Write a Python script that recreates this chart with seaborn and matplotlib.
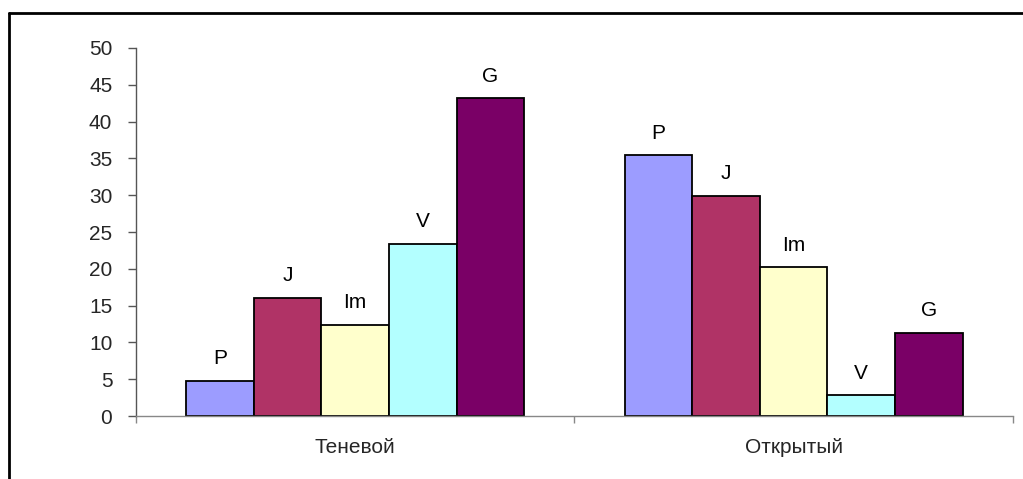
import pandas as pd
import matplotlib.pyplot as plt
import seaborn as sns
from matplotlib.lines import Line2D

# Data
groups = ["Теневой", "Открытый"]
series = ["P", "J", "Im", "V", "G"]
shadow_values = [4.8, 16.1, 12.4, 23.4, 43.2]
open_values = [35.4, 29.9, 20.2, 2.8, 11.3]
colors = ["#9C9CFF", "#B03366", "#FFFFCC", "#B3FFFF", "#7A0066"]
y_ticks = [0, 5, 10, 15, 20, 25, 30, 35, 40, 45, 50]

rows = []
for name, sv, ov in zip(series, shadow_values, open_values):
    rows.append({"group": groups[0], "series": name, "value": sv})
    rows.append({"group": groups[1], "series": name, "value": ov})
df = pd.DataFrame(rows)

sns.set_theme(style="white")
plt.rcParams["font.family"] = ["Liberation Sans", "DejaVu Sans"]

fig = plt.figure(figsize=(10.23, 4.79), dpi=100)
ax = fig.add_axes([0.1329, 0.1315, 0.9902 - 0.1329, 0.8998 - 0.1315])

sns.barplot(data=df, x="group", y="value", hue="series", order=groups,
            hue_order=series, palette=colors, width=0.77, edgecolor="black",
            linewidth=1.3, saturation=1, legend=False, ax=ax)

# series name above each bar
for container, name in zip(ax.containers, series):
    ax.bar_label(container, labels=[name] * len(container), padding=9,
                 fontsize=15, color="black")

ax.set_xlim(-0.5, 1.5)
ax.set_ylim(0, 50)
ax.set_yticks(y_ticks)
ax.set_yticklabels([str(t) for t in y_ticks], fontsize=15)

# category boundaries as major ticks, labels on minor ticks
ax.set_xticks([-0.5, 0.5, 1.5])
ax.set_xticklabels(["", "", ""])
ax.set_xticks([0, 1], minor=True)
ax.set_xticklabels(groups, minor=True, fontsize=15)
ax.tick_params(axis="x", which="minor", length=0, pad=16)
ax.tick_params(axis="x", which="major", direction="out", length=5,
               width=1, color="#888888", bottom=True)
ax.tick_params(axis="y", direction="out", length=6, width=1,
               color="#555555", left=True, pad=11)

ax.set_xlabel("")
ax.set_ylabel("")
for side in ["top", "right"]:
    ax.spines[side].set_visible(False)
ax.spines["left"].set_color("#555555")
ax.spines["bottom"].set_color("#888888")
ax.spines["left"].set_linewidth(1)
ax.spines["bottom"].set_linewidth(1)

# outer chart frame (left and top edges visible)
fig.add_artist(Line2D([0.0088, 0.0088], [0.0, 1 - 13 / 479], color="black",
                      linewidth=2, transform=fig.transFigure))
fig.add_artist(Line2D([0.0088, 1.0], [1 - 13 / 479, 1 - 13 / 479], color="black",
                      linewidth=2, transform=fig.transFigure))

fig.savefig("out.png", dpi=100)
